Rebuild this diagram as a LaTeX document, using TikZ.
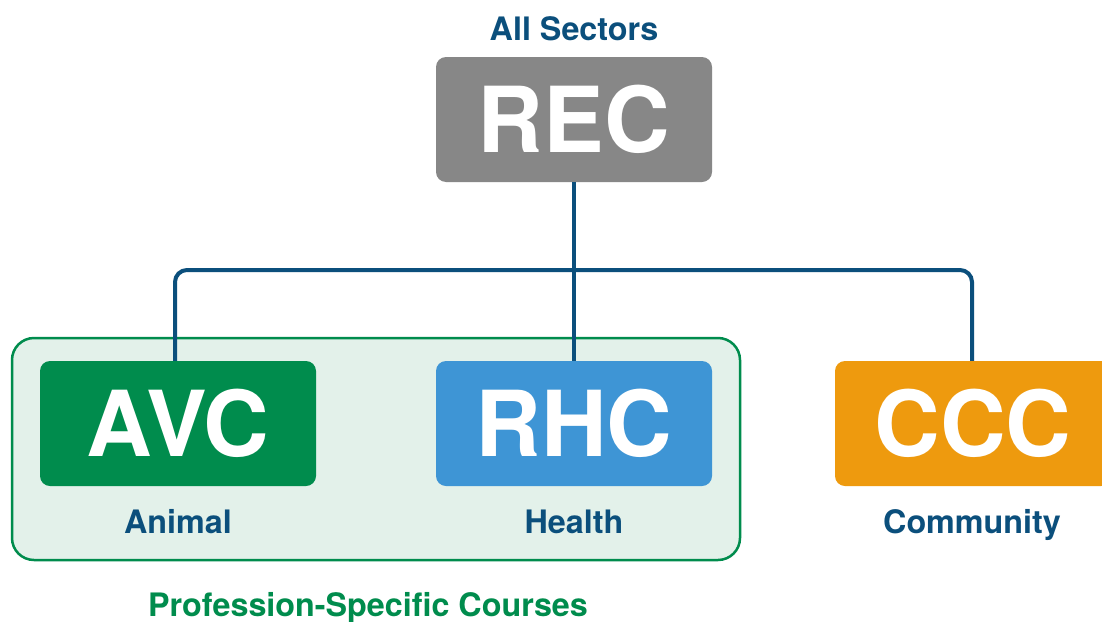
\documentclass[tikz,border=0pt]{standalone}
\usepackage{fontspec}
\setmainfont{TeX Gyre Heros}
\definecolor{navy}{HTML}{0B4F7C}
\definecolor{grn}{HTML}{008C4D}
\definecolor{lgrn}{HTML}{E3F1EA}
\definecolor{gry}{HTML}{878787}
\definecolor{blu}{HTML}{3E95D5}
\definecolor{org}{HTML}{EE9A0E}
\tikzset{
  bigbox/.style={rounded corners=10pt, minimum width=276pt, minimum height=125pt, inner sep=0pt,
    text=white, font=\bfseries\fontsize{91}{94}\selectfont},
  lbl/.style={anchor=base, inner sep=0pt, text=navy, font=\bfseries\fontsize{32.3}{35}\selectfont},
  wire/.style={draw=navy, line width=4pt, rounded corners=12pt}
}
\begin{document}
\begin{tikzpicture}[x=1pt,y=-1pt]
\clip (0,0) rectangle (1102,621);
\fill[white] (0,0) rectangle (1102,621);
\node[draw=grn, fill=lgrn, line width=2.5pt, rounded corners=22pt, minimum width=728pt, minimum height=222pt, inner sep=0pt] (group) at (376,449) {};
\node[bigbox, fill=gry] (REC) at (574,119.5) {REC};
\node[bigbox, fill=grn] (AVC) at (178,423.5) {AVC};
\node[bigbox, fill=blu] (RHC) at (574,423.5) {RHC};
\node[bigbox, fill=org] (CCC) at (973,423.5) {CCC};
\coordinate (bus) at (0,270);
\draw[wire] ([xshift=-3pt]AVC.north) -- ([xshift=-3pt]AVC.north |- bus) -- ([xshift=-1pt]CCC.north |- bus) -- ([xshift=-1pt]CCC.north);
\draw[wire] (REC.south) -- (RHC.north);
\node[lbl] (all) at (574,40) {All Sectors};
\node[lbl] (animal) at (178,533) {Animal};
\node[lbl] (health) at (574,533) {Health};
\node[lbl] (comm) at (972,533) {Community};
\node[lbl, text=grn] (prof) at (368,616) {Profession-Specific Courses};
\end{tikzpicture}
\end{document}
